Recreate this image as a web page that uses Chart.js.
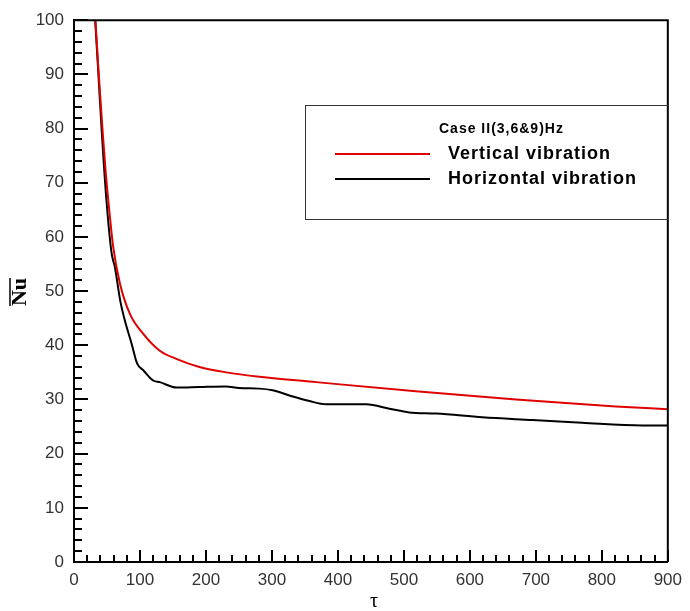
<!DOCTYPE html>
<html>
<head>
<meta charset="utf-8">
<script src="https://cdn.jsdelivr.net/npm/chart.js@4/dist/chart.umd.min.js"></script>
<style>
  body { margin: 0; background: #fff; }
  canvas { display: block; }
</style>
</head>
<body>
<canvas id="grafica" width="690" height="611"></canvas>
<script>
// datos
const tauVertical = [32, 37.5, 43.5, 48, 52, 59.5, 69.6, 84.7, 105, 130, 155, 190, 231, 281, 367, 518, 670, 821, 900]
const nuVertical = [101, 90, 79.3, 72, 66.7, 58.1, 51.4, 45.8, 42.1, 39, 37.5, 36, 35, 34.2, 33.2, 31.5, 30, 28.7, 28.2]

const tauHorizontal = [31.6, 37, 42, 49, 57, 62, 70, 77, 87.3, 95.8, 105, 120, 130, 155, 190, 230, 250, 281, 301, 330, 357, 382, 443, 478, 508, 549, 619, 695, 770, 861, 900]
const nuHorizontal = [101, 90, 79.6, 67, 57, 54.4, 48.3, 44.6, 40.3, 36.6, 35.4, 33.5, 33.2, 32.2, 32.3, 32.4, 32.1, 32.0, 31.7, 30.6, 29.7, 29.1, 29.1, 28.3, 27.6, 27.4, 26.7, 26.2, 25.7, 25.2, 25.2]

const xTicks = [0, 100, 200, 300, 400, 500, 600, 700, 800, 900]
const yTicks = [0, 10, 20, 30, 40, 50, 60, 70, 80, 90, 100]

const legendTitle = 'Case II(3,6&9)Hz'
const seriesNames = ['Vertical vibration', 'Horizontal vibration']

function puntos(xs, ys) {
  return xs.map((x, i) => ({ x: x, y: ys[i] }))
}

//ticks hacia adentro, caja y textos
const extras = {
  id: 'extras',
  afterDraw(chart) {
    const ctx = chart.ctx
    const a = chart.chartArea
    const sx = chart.scales.x
    const sy = chart.scales.y
    ctx.save()
    ctx.strokeStyle = '#000'
    ctx.lineWidth = 2
    for (let v = 0; v <= 900; v += 20) {
      const px = Math.round(sx.getPixelForValue(v))
      const len = v % 100 === 0 ? 12 : 7
      ctx.beginPath(); ctx.moveTo(px, a.bottom); ctx.lineTo(px, a.bottom - len); ctx.stroke()
    }
    for (let v = 0; v <= 100; v += 2) {
      const py = Math.round(sy.getPixelForValue(v))
      const len = v % 10 === 0 ? 14 : 8
      ctx.beginPath(); ctx.moveTo(a.left, py); ctx.lineTo(a.left + len, py); ctx.stroke()
    }
    // caja
    ctx.beginPath()
    ctx.moveTo(a.left, a.top); ctx.lineTo(a.right, a.top); ctx.lineTo(a.right, a.bottom)
    ctx.stroke()

    // leyenda
    ctx.lineWidth = 1
    ctx.strokeStyle = '#333'
    ctx.strokeRect(305.5, 105.5, a.right - 305, 114)
    ctx.fillStyle = '#000'
    ctx.textBaseline = 'middle'
    ctx.textAlign = 'left'
    ctx.letterSpacing = '1px'
    ctx.font = 'bold 14px "Liberation Sans", Arial, sans-serif'
    ctx.fillText(legendTitle, 439, 129)
    ctx.font = 'bold 18px "Liberation Sans", Arial, sans-serif'
    const colores = ['#e00000', '#000000']
    const ys = [154, 179]
    for (let i = 0; i < 2; i++) {
      ctx.strokeStyle = colores[i]
      ctx.lineWidth = 2
      ctx.beginPath(); ctx.moveTo(335, ys[i]); ctx.lineTo(430, ys[i]); ctx.stroke()
      ctx.fillText(seriesNames[i], 448, ys[i])
    }
    ctx.letterSpacing = '0px'

    // titulos de ejes
    ctx.textAlign = 'center'
    ctx.font = '20px "Liberation Serif", "Times New Roman", serif'
    ctx.fillText('τ', 374, 602)
    ctx.translate(20, 292)
    ctx.rotate(-Math.PI / 2)
    ctx.font = 'bold 22px "Liberation Serif", "Times New Roman", serif'
    ctx.fillText('Nu', 0, 0)
    ctx.strokeStyle = '#000'
    ctx.lineWidth = 1.5
    ctx.beginPath(); ctx.moveTo(-14, -10); ctx.lineTo(14, -10); ctx.stroke()
    ctx.restore()
  }
}

const config = {
  type: 'line',
  data: {
    datasets: [
      {
        label: seriesNames[0],
        data: puntos(tauVertical, nuVertical),
        borderColor: '#e00000',
        borderWidth: 2,
        pointRadius: 0,
        cubicInterpolationMode: 'monotone'
      },
      {
        label: seriesNames[1],
        data: puntos(tauHorizontal, nuHorizontal),
        borderColor: '#000000',
        borderWidth: 2,
        pointRadius: 0,
        cubicInterpolationMode: 'monotone'
      }
    ]
  },
  options: {
    responsive: false,
    animation: false,
    layout: { padding: { left: 0, top: 19, right: 21, bottom: 0 } },
    plugins: { legend: { display: false }, tooltip: { enabled: false } },
    scales: {
      x: {
        type: 'linear',
        min: 0, max: 900,
        afterBuildTicks: (s) => { s.ticks = xTicks.map(v => ({ value: v })) },
        afterFit: (s) => { s.height = 49 },
        grid: { display: false, drawTicks: false },
        border: { display: true, color: '#000', width: 2 },
        ticks: { color: '#333', padding: 8, maxRotation: 0, font: { family: '"Liberation Sans", Arial, sans-serif', size: 17 } }
      },
      y: {
        min: 0, max: 100,
        afterBuildTicks: (s) => { s.ticks = yTicks.map(v => ({ value: v })) },
        afterFit: (s) => { s.width = 74 },
        grid: { display: false, drawTicks: false },
        border: { display: true, color: '#000', width: 2 },
        ticks: { color: '#333', padding: 10, font: { family: '"Liberation Sans", Arial, sans-serif', size: 17 } }
      }
    }
  },
  plugins: [extras]
}

new Chart(document.getElementById('grafica'), config)
</script>
</body>
</html>
